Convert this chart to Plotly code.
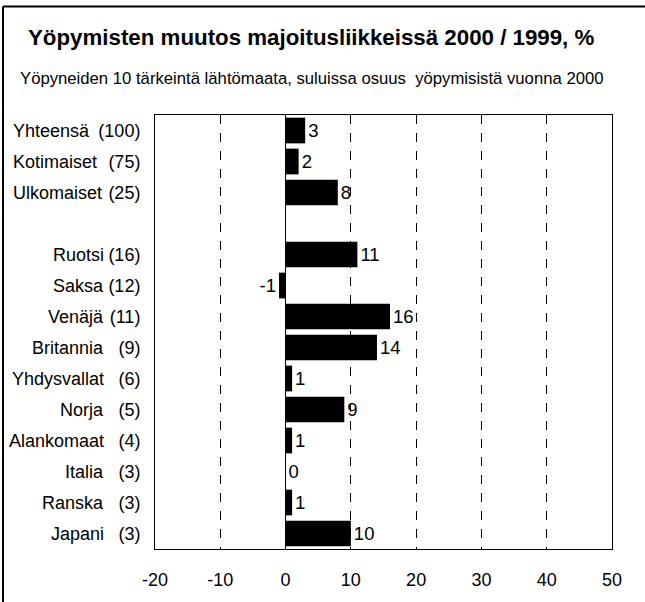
import plotly.graph_objects as go

# ---- data ----
names = ["Yhteensä", "Kotimaiset", "Ulkomaiset", " ", "Ruotsi", "Saksa", "Venäjä",
         "Britannia", "Yhdysvallat", "Norja", "Alankomaat", "Italia", "Ranska", "Japani"]
shares = [100, 75, 25, None, 16, 12, 11, 9, 6, 5, 4, 3, 3, 3]
changes = [3, 2, 8, None, 11, -1, 16, 14, 1, 9, 1, 0, 1, 10]
x_ticks = [-20, -10, 0, 10, 20, 30, 40, 50]
title_text = "Yöpymisten muutos majoitusliikkeissä 2000 / 1999, %"
subtitle_text = "Yöpyneiden 10 tärkeintä lähtömaata, suluissa osuus  yöpymisistä vuonna 2000"
n_totals = 3  # first rows are totals (names left-aligned)

FONT = "Liberation Sans, Arial, sans-serif"

W, H = 645, 602
ML, MR, MT, MB = 155, 33, 115, 51
PW, PH = W - ML - MR, H - MT - MB

def px_x(px):
    return (px - ML) / PW

def px_y(py):
    return (H - MB - py) / PH

cats = names
ticktext = ["" if s is None else f"({s})" for s in shares]

fig = go.Figure()
fig.add_trace(go.Bar(
    y=cats, x=changes, orientation="h",
    marker=dict(color="black", line=dict(width=0)),
    text=[("" if v is None else str(v)) for v in changes],
    textposition="outside", constraintext="none", cliponaxis=False,
    textfont=dict(family=FONT, size=18.5, color="black"),
    hoverinfo="skip",
))

annotations = []
for i, nm in enumerate(names):
    if shares[i] is None:
        continue
    if i < n_totals:
        annotations.append(dict(xref="paper", yref="y", x=px_x(11), y=nm, text=nm,
                                xanchor="left", yanchor="middle", showarrow=False,
                                font=dict(family=FONT, size=18, color="black")))
    else:
        annotations.append(dict(xref="paper", yref="y", x=px_x(106), y=nm, text=nm,
                                xanchor="right", yanchor="middle", showarrow=False,
                                font=dict(family=FONT, size=18, color="black")))

annotations.append(dict(xref="paper", yref="paper", x=px_x(18), y=px_y(78), text=subtitle_text,
                        xanchor="left", yanchor="middle", showarrow=False,
                        font=dict(family=FONT, size=16.7, color="black")))

shapes = [
    dict(type="line", xref="paper", yref="paper", x0=px_x(3), x1=px_x(3),
         y0=px_y(H + 5), y1=px_y(6), line=dict(color="black", width=2)),
    dict(type="line", xref="paper", yref="paper", x0=px_x(3), x1=px_x(W + 5),
         y0=px_y(6), y1=px_y(6), line=dict(color="black", width=2)),
]

fig.update_layout(
    width=W, height=H,
    margin=dict(l=ML, r=MR, t=MT, b=MB),
    paper_bgcolor="white", plot_bgcolor="white",
    showlegend=False,
    bargap=0.17,
    title=dict(text=f"<b>{title_text}</b>", x=28 / W, xanchor="left",
               y=1 - 37 / H, yanchor="middle",
               font=dict(family=FONT, size=22.3, color="black")),
    annotations=annotations,
    shapes=shapes,
    xaxis=dict(range=[-20, 50], tickvals=x_ticks, ticktext=[str(t) for t in x_ticks],
               showgrid=True, gridcolor="black", gridwidth=1, griddash="dash",
               zeroline=True, zerolinecolor="black", zerolinewidth=1,
               showline=True, mirror=True, linecolor="black", linewidth=1,
               ticks="", ticklabelstandoff=14,
               tickfont=dict(family=FONT, size=18, color="black")),
    yaxis=dict(categoryorder="array", categoryarray=cats, autorange="reversed",
               tickvals=cats, ticktext=ticktext,
               showgrid=False, zeroline=False,
               showline=True, mirror=True, linecolor="black", linewidth=1,
               ticks="", ticklabelstandoff=10,
               tickfont=dict(family=FONT, size=18, color="black")),
)

fig.write_html("out.html", config={"displayModeBar": False},
               post_script="document.body.style.margin='0';document.body.style.overflow='hidden';")
